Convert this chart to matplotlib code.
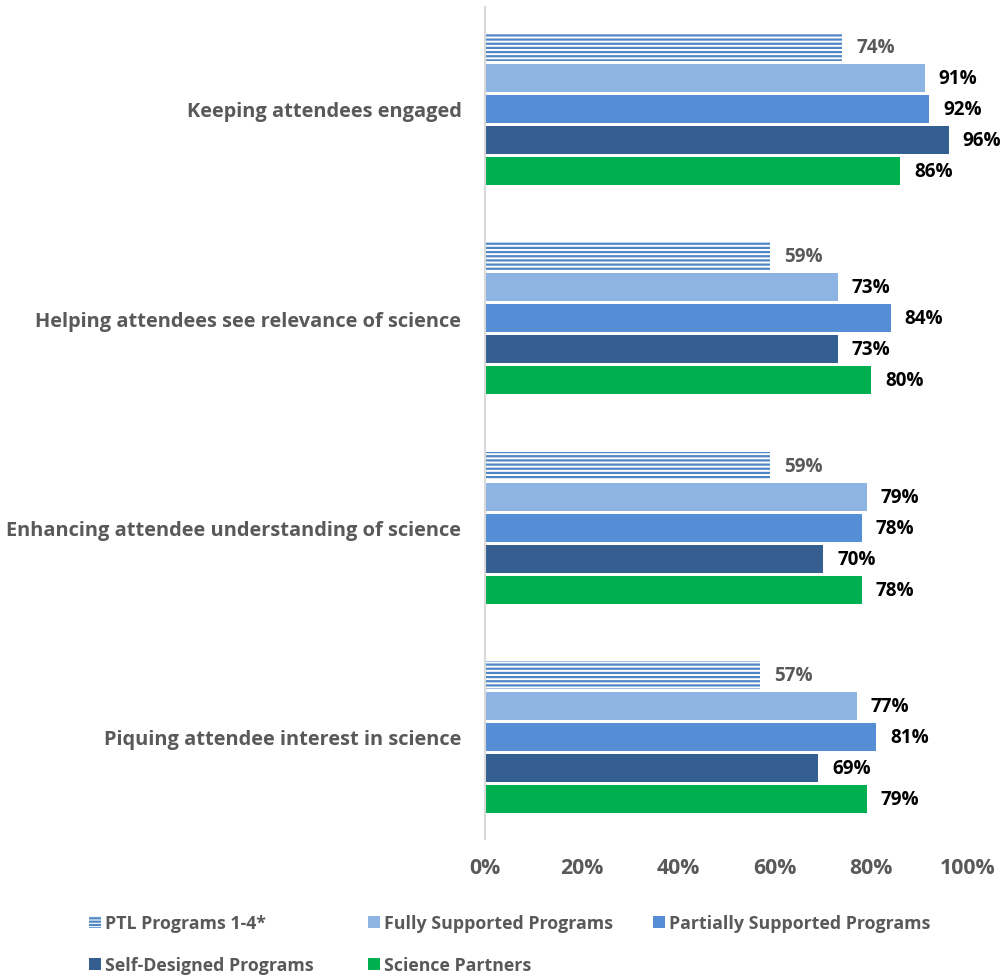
import matplotlib
matplotlib.use("Agg")
import matplotlib.pyplot as plt
from matplotlib.patches import Patch

# Data (top to bottom on the chart)
categories = ["Keeping attendees engaged",
              "Helping attendees see relevance of science",
              "Enhancing attendee understanding of science",
              "Piquing attendee interest in science"]
series_names = ["PTL Programs 1-4*", "Fully Supported Programs",
                "Partially Supported Programs", "Self-Designed Programs",
                "Science Partners"]
ptl = [74, 59, 59, 57]
fully = [91, 73, 79, 77]
partially = [92, 84, 78, 81]
self_designed = [96, 73, 70, 69]
partners = [86, 80, 78, 79]
xticks = [0, 20, 40, 60, 80, 100]

series = [ptl, fully, partially, self_designed, partners]
colors = ["#4F86C6", "#8EB4E3", "#558ED5", "#355F91", "#00B050"]
label_colors = ["#595959", "#000000", "#000000", "#000000", "#000000"]

plt.rcParams['font.family'] = ['Open Sans', 'DejaVu Sans']
plt.rcParams['font.weight'] = 'bold'
plt.rcParams['hatch.linewidth'] = 1.6

fig = plt.figure(figsize=(10, 9.78), dpi=100)
ax = fig.add_axes([0.485, 0.141, 0.483, 0.851])

group_pitch = 6.74
bar_h = 0.9
n_series = len(series)
group_centers = []
for g in range(len(categories)):
    gc = g * group_pitch
    group_centers.append(gc)
    for s in range(n_series):
        y = gc + (s - 2)
        v = series[s][g]
        if s == 0:
            ax.barh(y, v, height=bar_h, color="white", edgecolor=colors[0],
                    linewidth=0, hatch="----")
        else:
            ax.barh(y, v, height=bar_h, color=colors[s], linewidth=0)
        ax.text(v + 2.9, y, f"{v}%", va="center", ha="left", fontsize=13.6,
                fontweight="bold", color=label_colors[s], clip_on=False)

ax.set_xlim(0, 100)
pad = 3.29
ax.set_ylim(group_centers[-1] + pad, group_centers[0] - pad)
ax.set_yticks(group_centers)
ax.set_yticklabels(categories, fontsize=14.4, fontweight="bold", color="#595959")
ax.set_xticks(xticks)
ax.set_xticklabels([f"{t}%" for t in xticks], fontsize=15.3, fontweight="bold",
                   color="#595959")
ax.tick_params(axis="both", length=0)
ax.tick_params(axis="y", pad=17)
ax.tick_params(axis="x", pad=13)

for side in ["top", "right", "bottom"]:
    ax.spines[side].set_visible(False)
ax.spines["left"].set_color("#D9D9D9")
ax.spines["left"].set_linewidth(1.5)

# legend: one entry per legend so every entry sits where the reference has it
handles = [Patch(facecolor="white", edgecolor=colors[0], linewidth=0, hatch="-----")]
handles += [Patch(facecolor=c, linewidth=0) for c in colors[1:]]
leg_x = [0.089, 0.368, 0.653, 0.089, 0.368]
leg_y = [1 - 924 / 978, 1 - 924 / 978, 1 - 924 / 978, 1 - 966 / 978, 1 - 966 / 978]
for i in range(len(series_names)):
    leg = fig.legend([handles[i]], [series_names[i]], loc="center left",
                     bbox_to_anchor=(leg_x[i], leg_y[i]), frameon=False,
                     borderpad=0, borderaxespad=0,
                     handlelength=0.65, handleheight=0.65, handletextpad=0.25,
                     prop={"size": 12.8, "weight": "bold"})
    for t in leg.get_texts():
        t.set_color("#595959")

fig.savefig("out.png", dpi=100)
